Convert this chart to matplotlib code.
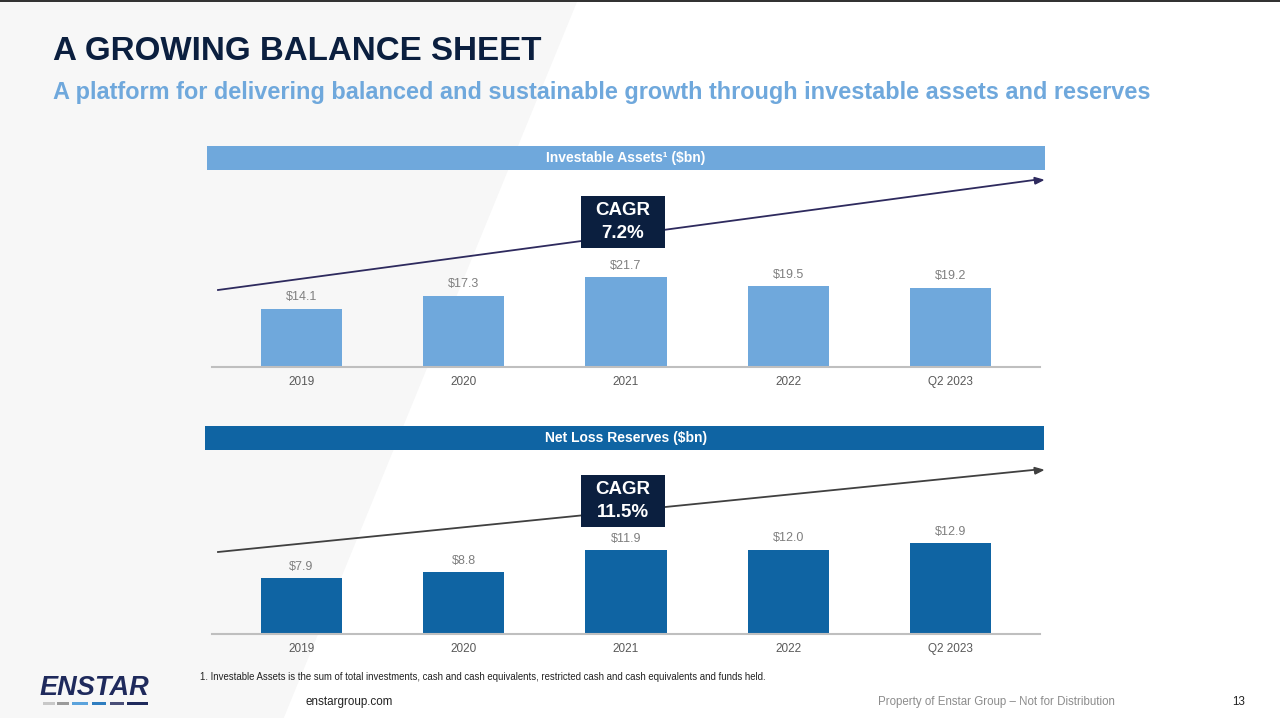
import matplotlib
matplotlib.use("Agg")
import matplotlib.pyplot as plt
from matplotlib.patches import Rectangle, Polygon

categories = ["2019", "2020", "2021", "2022", "Q2 2023"]
investable_assets = [14.1, 17.3, 21.7, 19.5, 19.2]
net_loss_reserves = [7.9, 8.8, 11.9, 12.0, 12.9]
cagr_assets = "7.2%"
cagr_reserves = "11.5%"

W, H = 1280, 718
NAVY = "#0B1F3F"
LIGHT = "#6FA8DC"
DARK = "#0F64A3"

plt.rcParams["font.family"] = ["Liberation Sans", "DejaVu Sans"]


def px_rect(x0, y0, x1, y1):
    # pixel box (top-left origin) -> figure fraction [l, b, w, h]
    return [x0 / W, 1 - y1 / H, (x1 - x0) / W, (y1 - y0) / H]


def fx(x):
    return x / W


def fy(y):
    return 1 - y / H


def box(fig, x0, y0, x1, y1, color, z=1):
    l, b, w, h = px_rect(x0, y0, x1, y1)
    fig.patches.append(Rectangle((l, b), w, h, transform=fig.transFigure,
                                 facecolor=color, edgecolor="none", zorder=z))


def panel(fig, rect, values, color, ylim_top, arrow, arrow_color, cagr, cagr_xy):
    ax = fig.add_axes(px_rect(*rect))
    ax.set_zorder(1)
    x = range(len(values))
    bars = ax.bar(x, values, width=0.5, color=color, zorder=2)
    ax.bar_label(bars, labels=[f"${v:.1f}" for v in values], padding=4,
                 color="#7F7F7F", fontsize=9)
    ax.set_xlim(-0.55, 4.55)
    ax.set_ylim(0, ylim_top)
    ax.set_xticks(list(x))
    ax.set_xticklabels(categories, color="#595959", fontsize=8.5)
    ax.tick_params(axis="x", length=0, pad=6.5)
    ax.set_yticks([])
    for s in ["top", "left", "right"]:
        ax.spines[s].set_visible(False)
    ax.spines["bottom"].set_color("#BFBFBF")
    ax.spines["bottom"].set_linewidth(1.5)
    ax.patch.set_alpha(0)

    (ax0, ay0), (ax1, ay1) = arrow
    fig.add_artist(plt.Line2D([fx(ax0), fx(ax1) - 0.004], [fy(ay0), fy(ay1) + 0.0007],
                              transform=fig.transFigure, color=arrow_color, lw=1.3,
                              zorder=3))
    fig.patches.append(Polygon([[fx(ax1), fy(ay1)], [fx(ax1 - 9), fy(ay1 - 2.5)],
                                [fx(ax1 - 8), fy(ay1 + 4)]], closed=True,
                               transform=fig.transFigure, color=arrow_color, zorder=3))

    cx, cy = cagr_xy
    box(fig, cx - 42, cy - 26, cx + 42, cy + 26, NAVY, z=4)
    fig.text(fx(cx), fy(cy), "CAGR\n" + cagr, ha="center", va="center", color="white",
             fontsize=13.5, fontweight="bold", linespacing=1.4, zorder=5)
    return ax


fig = plt.figure(figsize=(W / 100, H / 100), dpi=100)
fig.patch.set_facecolor("white")

# background diagonal shape and top rule
fig.patches.append(Polygon([[0, 1], [fx(577), 1], [fx(283), 0], [0, 0]], closed=True,
                           transform=fig.transFigure, color="#F7F7F7", zorder=-1))
box(fig, 0, 0, W, 2, "#333333")

fig.text(fx(53), fy(51), "A GROWING BALANCE SHEET", fontsize=23.9, fontweight="bold",
         color=NAVY, va="center")
fig.text(fx(53), fy(92), "A platform for delivering balanced and sustainable growth "
         "through investable assets and reserves", fontsize=16.9, fontweight="bold",
         color=LIGHT, va="center")

# top panel
box(fig, 207, 146, 1045, 170, LIGHT)
fig.text(fx(626), fy(158), "Investable Assets\u00b9 ($bn)", ha="center", va="center",
         color="white", fontsize=10, fontweight="bold")
panel(fig, (212, 175, 1040, 367), investable_assets, LIGHT, 192 / 4.13,
      ((218, 290), (1043, 180)), "#2E2A5E", cagr_assets, (623, 222))

# bottom panel
box(fig, 205, 426, 1044, 450, DARK)
fig.text(fx(626), fy(438), "Net Loss Reserves ($bn)", ha="center", va="center",
         color="white", fontsize=10, fontweight="bold")
panel(fig, (212, 460, 1040, 634), net_loss_reserves, DARK, 174 / 7.03,
      ((218, 552), (1043, 470)), "#404040", cagr_reserves, (623, 501))

# footer
fig.text(fx(200), fy(677), "1. Investable Assets is the sum of total investments, cash and "
         "cash equivalents, restricted cash and cash equivalents and funds held.",
         fontsize=6.95, color="#222222", va="center")
fig.text(fx(305), fy(702), "enstargroup.com", fontsize=8.4, color="#222222", va="center")
fig.text(fx(878), fy(702), "Property of Enstar Group \u2013 Not for Distribution",
         fontsize=8.3, color="#8C8C8C", va="center")
fig.text(fx(1232), fy(702), "13", fontsize=8.4, color="#222222", va="center")

# logo
fig.text(fx(40), fy(688), "ENSTAR", fontsize=19.5, fontweight="heavy", style="italic",
         color="#1F2A5C", va="center")
for x0, x1, c in [(43, 55, "#C8C8C8"), (57, 69, "#9A9A9A"), (72, 88, "#5BA3DC"),
                  (92, 106, "#2F7EC0"), (110, 124, "#4A4F78"), (127, 148, "#1F2A5C")]:
    box(fig, x0, 702, x1, 705, c, z=2)

fig.savefig("out.png", dpi=100)
